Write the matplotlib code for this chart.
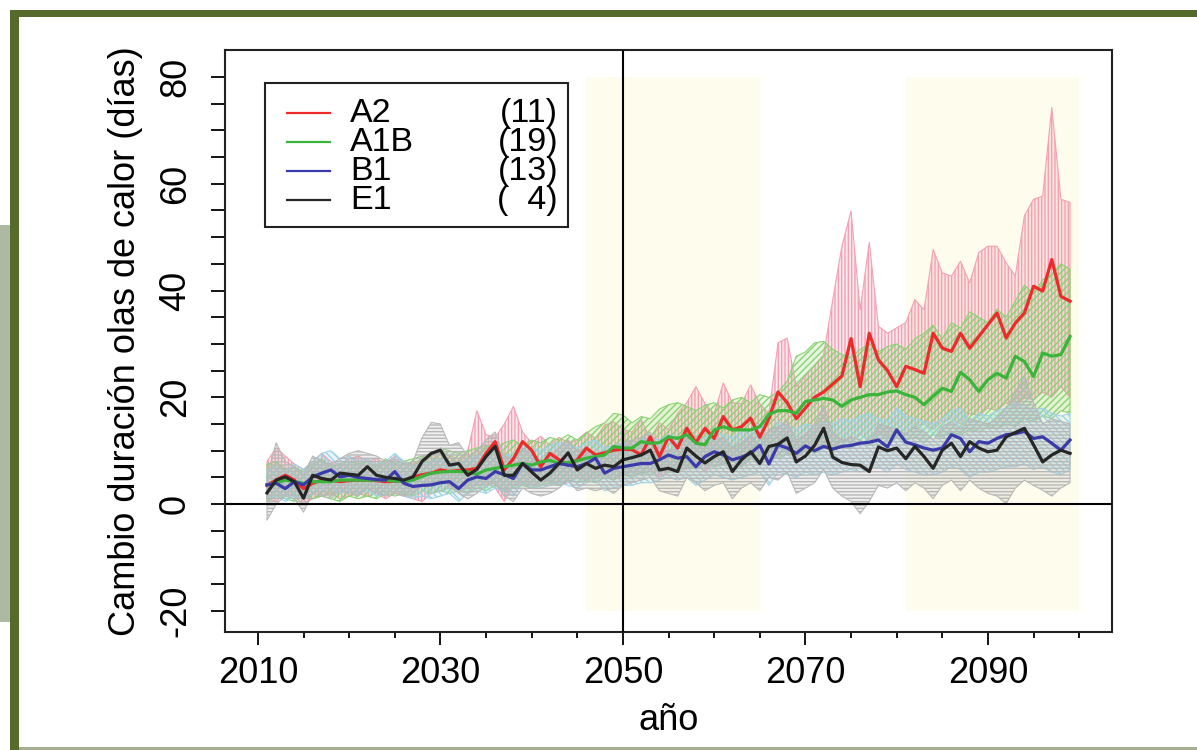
import numpy as np
import matplotlib.pyplot as plt
from matplotlib.patches import Rectangle
from matplotlib.colors import to_rgba

plt.rcParams['font.family'] = ['Liberation Sans', 'DejaVu Sans']
plt.rcParams['hatch.linewidth'] = 1.0
plt.rcParams['axes.unicode_minus'] = False

# years of the projection
years = np.arange(2011, 2100)

# multi-model mean change (days) per scenario
a2_mean = [3.5, 4.5, 5.4, 4.5, 2.9, 3.9, 4.5, 4.5, 4.2, 4.4,
           4.5, 4.5, 4.4, 4.2, 4.3, 4.2, 5.1, 5.5, 5.8, 6.4,
           6.1, 6.3, 6.4, 6.7, 9.5, 11.7, 6.4, 8.5, 11.7, 10.1,
           7.0, 9.5, 8.3, 7.3, 8.3, 10.5, 9.2, 9.6, 10.1, 10.3,
           10.2, 9.2, 12.6, 8.9, 12.6, 10.5, 14.2, 11.5, 14.2, 12.3,
           16.4, 13.9, 14.5, 16.1, 12.5, 16.0, 21.0, 19.0, 16.0, 18.0,
           20.0, 21.0, 22.5, 24.0, 31.0, 22.0, 32.0, 27.0, 25.0, 22.0,
           25.8, 25.2, 24.5, 32.0, 29.2, 28.6, 32.0, 29.2, 31.4, 33.6,
           35.8, 31.1, 33.9, 35.8, 40.8, 39.9, 45.8, 38.9, 38.0]
a1b_mean = [3.6, 3.9, 4.5, 4.2, 3.9, 4.2, 4.2, 4.2, 4.5, 4.5,
            4.5, 4.5, 4.5, 4.5, 4.3, 4.2, 4.5, 5.2, 5.8, 6.0,
            6.1, 6.1, 6.0, 5.6, 6.4, 6.7, 7.0, 7.3, 7.6, 7.3,
            7.9, 8.2, 7.6, 7.8, 8.1, 8.6, 8.9, 9.2, 10.8, 10.5,
            10.5, 11.7, 11.4, 11.5, 12.6, 12.3, 13.0, 11.4, 11.1, 13.9,
            14.5, 13.9, 13.9, 13.9, 14.5, 16.8, 17.5, 17.5, 17.0, 19.2,
            19.5, 19.8, 19.5, 18.3, 19.5, 20.0, 20.5, 20.5, 21.0, 21.2,
            20.5, 20.0, 18.6, 20.2, 21.7, 21.1, 24.7, 23.3, 21.1, 23.3,
            24.5, 23.6, 27.7, 26.7, 23.9, 28.3, 27.7, 28.0, 31.4]
b1_mean = [3.6, 3.9, 2.9, 4.2, 3.6, 5.1, 5.8, 6.4, 5.1, 5.4,
           5.0, 4.8, 4.6, 4.5, 6.1, 3.9, 3.3, 3.5, 3.6, 4.0,
           4.2, 2.9, 4.5, 5.1, 4.8, 6.1, 5.5, 4.8, 7.6, 6.4,
           6.4, 7.0, 7.6, 7.3, 7.0, 7.6, 8.6, 5.8, 6.7, 7.0,
           7.3, 7.6, 7.6, 8.3, 9.2, 8.6, 8.9, 7.0, 8.9, 9.8,
           9.2, 8.3, 8.8, 9.5, 11.0, 7.5, 11.1, 10.5, 9.5, 10.9,
           10.0, 10.8, 10.3, 10.8, 11.0, 11.4, 11.6, 12.0, 10.7, 13.9,
           11.6, 11.1, 10.5, 10.1, 10.5, 13.0, 12.3, 9.8, 11.7, 11.4,
           12.3, 13.0, 13.2, 13.6, 12.3, 12.6, 11.4, 10.1, 12.0]
e1_mean = [2.1, 4.5, 5.1, 4.2, 1.1, 5.4, 4.8, 4.5, 5.8, 5.6,
           5.4, 7.0, 5.4, 5.0, 4.8, 4.5, 5.1, 8.0, 9.5, 10.1,
           7.3, 7.6, 5.4, 6.5, 8.9, 10.8, 5.4, 5.4, 7.6, 6.0,
           4.5, 5.8, 7.6, 9.6, 6.4, 7.6, 6.7, 7.3, 7.0, 8.3,
           8.7, 9.2, 10.1, 6.4, 6.7, 6.1, 10.5, 9.0, 7.7, 8.9,
           9.8, 6.1, 8.3, 9.8, 7.6, 10.8, 11.2, 12.4, 7.9, 9.0,
           11.0, 14.2, 8.8, 7.8, 7.4, 7.3, 6.1, 10.7, 10.0, 10.5,
           8.5, 10.8, 8.9, 6.7, 10.1, 11.4, 8.9, 11.7, 10.5, 9.8,
           10.1, 12.6, 13.4, 14.2, 11.1, 7.9, 9.2, 10.1, 9.5]

# model spread (max / min) per scenario
a2_hi = [8.0, 10.5, 9.0, 7.5, 6.5, 8.0, 9.5, 8.0, 7.5, 8.5,
         9.0, 8.0, 8.5, 7.5, 9.0, 8.0, 7.5, 8.5, 9.0, 10.0,
         9.0, 8.5, 10.0, 17.5, 13.0, 12.5, 15.0, 18.3, 13.5, 11.5,
         12.7, 11.0, 12.5, 11.5, 12.0, 13.5, 12.3, 14.8, 15.4, 14.0,
         13.5, 15.8, 12.3, 15.2, 14.0, 17.0, 19.0, 22.0, 18.8, 16.9,
         22.7, 19.0, 18.8, 22.3, 18.8, 17.0, 30.2, 31.1, 22.0, 24.0,
         26.0, 28.0, 38.3, 48.3, 54.9, 36.4, 49.0, 33.3, 32.0, 33.0,
         34.0, 38.3, 36.4, 47.7, 43.3, 42.7, 45.5, 41.4, 47.1, 48.3,
         48.3, 45.2, 42.7, 54.0, 57.1, 57.7, 74.3, 57.1, 56.5]
a2_lo = [1.0, 0.5, 2.0, 1.5, 0.0, 1.0, 1.5, 2.0, 1.0, 1.5,
         2.0, 1.5, 2.0, 1.0, 2.0, 1.5, 1.0, 0.5, 2.0, 2.5,
         3.0, 2.5, 3.0, 3.5, 4.0, 3.0, 0.5, 3.5, 4.0, 3.5,
         4.0, 4.5, 3.5, 4.0, 5.0, 4.5, 5.0, 5.5, 4.5, 5.5,
         6.0, 5.5, 6.5, 5.0, 6.0, 7.0, 6.5, 7.5, 6.0, 8.0,
         7.5, 8.0, 7.0, 8.5, 9.0, 8.0, 9.5, 10.0, 8.5, 10.0,
         10.5, 11.0, 10.0, 12.0, 11.5, 13.0, 12.0, 13.5, 12.5, 14.0,
         13.0, 14.5, 15.0, 14.0, 15.5, 16.0, 15.0, 17.0, 16.5, 18.0,
         17.5, 19.0, 18.0, 20.0, 19.5, 21.0, 20.0, 22.0, 20.0]
a1b_hi = [7.5, 8.0, 6.5, 7.0, 6.0, 7.5, 8.5, 7.0, 7.5, 8.0,
          7.5, 8.0, 7.0, 8.5, 7.5, 8.0, 8.5, 9.0, 9.5, 10.5,
          10.0, 9.5, 10.0, 10.5, 11.0, 10.0, 11.5, 12.0, 11.0, 12.0,
          11.5, 12.5, 12.0, 13.0, 12.0, 13.3, 14.5, 15.2, 17.0, 16.7,
          15.2, 16.4, 16.0, 17.8, 18.6, 19.0, 18.3, 17.5, 18.5, 19.0,
          18.0, 19.5, 20.0, 19.0, 20.5, 20.0, 21.0, 23.0, 27.7, 28.5,
          30.2, 30.5, 29.0, 28.0, 27.5, 29.0, 30.0, 28.5, 29.5, 30.0,
          29.0, 31.0, 32.0, 33.5, 31.0, 34.0, 33.0, 36.0, 35.0, 34.0,
          36.5, 35.0, 38.0, 41.0, 39.5, 42.0, 43.0, 45.0, 44.0]
a1b_lo = [0.5, 1.5, 1.0, 0.5, 1.5, 1.0, 1.5, 1.0, 0.5, 1.5,
          1.0, 1.5, 1.0, 2.0, 1.5, 2.0, 1.5, 2.5, 2.0, 2.5,
          2.0, 2.5, 2.0, 3.0, 2.5, 3.5, 2.5, 3.0, 3.5, 3.0,
          3.5, 4.0, 3.5, 4.5, 4.0, 4.5, 4.0, 5.0, 4.5, 5.5,
          5.0, 6.0, 5.5, 6.5, 6.0, 6.0, 7.0, 6.5, 7.5, 7.0,
          7.5, 8.0, 7.0, 8.5, 8.0, 9.0, 8.5, 9.5, 9.0, 10.0,
          9.5, 10.5, 10.0, 11.0, 10.5, 11.5, 11.0, 12.0, 11.0, 12.5,
          12.0, 12.5, 11.5, 13.0, 12.5, 13.5, 13.0, 14.0, 13.5, 14.5,
          14.0, 15.0, 14.5, 16.0, 15.5, 16.5, 16.0, 17.5, 17.0]
b1_hi = [6.5, 7.0, 6.0, 7.5, 6.5, 8.0, 9.5, 10.0, 8.5, 9.0,
         8.0, 8.5, 7.5, 8.0, 9.5, 8.0, 7.0, 7.5, 8.0, 8.5,
         8.0, 7.5, 8.5, 9.0, 9.5, 10.0, 9.0, 9.5, 11.0, 10.5,
         10.0, 11.0, 11.5, 11.0, 10.5, 11.5, 12.0, 10.5, 11.0, 11.5,
         11.0, 12.0, 12.5, 12.0, 13.0, 12.5, 13.0, 11.5, 12.5, 13.5,
         13.0, 12.5, 13.5, 14.0, 15.0, 12.5, 15.5, 14.5, 14.0, 15.0,
         14.5, 15.5, 15.0, 16.0, 15.5, 16.5, 17.0, 16.0, 15.5, 18.0,
         16.5, 16.0, 15.5, 15.0, 16.0, 17.5, 18.0, 15.5, 17.0, 16.5,
         17.5, 18.0, 19.0, 18.5, 17.5, 18.0, 17.0, 16.5, 17.0]
b1_lo = [1.0, 1.5, 0.5, 1.5, 1.0, 2.0, 2.5, 3.0, 2.0, 2.5,
         2.0, 2.5, 1.5, 2.0, 3.0, 1.5, 1.0, 1.5, 1.0, 1.5,
         2.0, 0.5, 2.0, 2.5, 2.0, 3.0, 2.5, 1.5, 4.0, 3.0,
         3.0, 3.5, 4.0, 3.5, 3.0, 4.0, 4.5, 2.5, 3.0, 3.5,
         3.5, 4.0, 4.0, 4.5, 5.0, 4.5, 5.0, 3.5, 4.5, 5.5,
         5.0, 4.5, 5.0, 5.5, 6.0, 3.5, 6.0, 5.5, 5.0, 6.0,
         5.5, 6.0, 5.5, 6.0, 6.5, 6.0, 6.5, 7.0, 6.0, 7.5,
         6.5, 6.0, 5.5, 5.5, 6.0, 7.0, 6.5, 5.0, 6.0, 6.0,
         6.5, 7.0, 7.0, 7.5, 6.5, 7.0, 6.0, 5.5, 6.5]
e1_hi = [5.0, 11.5, 8.0, 7.0, 5.5, 9.0, 8.0, 7.5, 8.5, 9.5,
         10.0, 9.5, 9.0, 8.0, 8.5, 7.5, 8.0, 12.5, 15.3, 15.0,
         11.0, 11.5, 9.0, 10.0, 12.0, 13.5, 9.0, 8.5, 10.5, 9.5,
         8.0, 9.0, 10.5, 12.0, 10.0, 10.5, 9.5, 10.0, 10.5, 11.5,
         12.0, 12.5, 13.5, 10.5, 10.0, 10.5, 13.5, 12.5, 11.0, 12.0,
         12.5, 10.5, 11.5, 13.0, 11.0, 14.0, 14.5, 15.5, 12.0, 13.0,
         15.0, 18.5, 13.5, 12.0, 12.5, 12.0, 11.0, 15.0, 14.5, 14.0,
         13.0, 14.5, 13.5, 12.0, 14.5, 15.5, 14.0, 16.0, 15.5, 15.0,
         16.0, 18.0, 21.0, 24.0, 19.0, 15.0, 16.0, 15.5, 15.0]
e1_lo = [-3.0, 0.0, 1.5, 1.0, -1.5, 2.0, 1.5, 1.0, 2.5, 2.0,
         1.5, 3.0, 2.0, 1.5, 2.0, 1.5, 2.0, 3.5, 4.0, 4.5,
         3.5, 2.0, 1.0, 2.0, 3.5, 4.0, 1.5, 0.5, 3.0, 2.0,
         1.5, 2.0, 3.0, 4.5, 2.5, 3.0, 2.5, 3.0, 2.0, 3.5,
         4.0, 4.5, 5.0, 2.5, 2.0, 1.5, 5.0, 4.0, 2.5, 3.5,
         4.0, 1.0, 3.0, 4.0, 2.5, 5.0, 4.5, 6.0, 2.0, 3.0,
         4.0, 6.5, 3.0, 1.5, 0.5, -1.8, 0.5, 3.5, 3.0, 4.0,
         2.5, 4.0, 3.0, 1.0, 3.5, 4.5, 2.5, 4.5, 3.0, 2.0,
         1.5, 0.1, 3.0, 4.5, 3.5, 2.6, 1.5, 3.0, 4.0]

scenarios = ['A2', 'A1B', 'B1', 'E1']
n_models = ['(11)', '(19)', '(13)', '(  4)']
means = [a2_mean, a1b_mean, b1_mean, e1_mean]
his = [a2_hi, a1b_hi, b1_hi, e1_hi]
los = [a2_lo, a1b_lo, b1_lo, e1_lo]
line_colors = ['#ee2a2a', '#3bb43b', '#3a3aaa', '#262626']
band_colors = ['#f4a0b4', '#8ad275', '#9ed3e6', '#b8b8b8']
hatches = ['|||||', '/////', '\\\\\\\\\\', '-----']

# highlighted periods
periods = [(2046, 2065), (2081, 2100)]

fig = plt.figure(figsize=(11.97, 7.5), dpi=100)
ax = fig.add_axes([0.188, 0.157, 0.741, 0.776])

for p0, p1 in periods:
    ax.fill_between([p0, p1], -20, 80, color='#fefcec', lw=0, zorder=0)

for hi, lo, bc, h in zip(his, los, band_colors, hatches):
    ax.fill_between(years, lo, hi, facecolor=to_rgba(bc, 0.22), edgecolor=bc,
                    hatch=h, lw=0.8, zorder=1)

for m, c in zip(means, line_colors):
    ax.plot(years, m, color=c, lw=2.3, zorder=3)

ax.axhline(0, color='black', lw=1.5, zorder=4)
ax.axvline(2050, color='black', lw=1.5, zorder=4)

ax.set_xlim(2006.4, 2103.6)
ax.set_ylim(-24, 85)
ax.set_xticks([2010, 2030, 2050, 2070, 2090])
ax.set_xticks(np.arange(2010, 2101, 5), minor=True)
ax.set_yticks([-20, 0, 20, 40, 60, 80])
ax.set_yticks(np.arange(-20, 81, 5), minor=True)
ax.tick_params(axis='x', which='major', length=9, width=1.3, pad=8, labelsize=26)
ax.tick_params(axis='x', which='minor', length=4, width=1.3)
ax.tick_params(axis='y', which='both', length=10, width=1.3)
ax.tick_params(axis='y', which='major', pad=13, labelsize=26, labelrotation=90)
for lab in ax.get_yticklabels():
    lab.set_va('center')
for s in ax.spines.values():
    s.set_linewidth(1.5)
    s.set_color('#222222')

ax.set_xlabel('año', fontsize=26, labelpad=9)
ax.set_ylabel('Cambio duración olas de calor (días)', fontsize=26, labelpad=11)

# legend box
ax.add_patch(Rectangle((0.0451, 0.6959), 0.3416, 0.2474, transform=ax.transAxes,
                       facecolor='white', edgecolor='#222222', lw=1.5, zorder=5))
rows = [0.8918, 0.8419, 0.7921, 0.7423]
for yy, name, cnt, c in zip(rows, scenarios, n_models, line_colors):
    ax.plot([0.0699, 0.1184], [yy, yy], transform=ax.transAxes, color=c, lw=1.6, zorder=6)
    ax.text(0.1409, yy, name, transform=ax.transAxes, fontsize=24.5, va='center', zorder=6)
    ax.text(0.3754, yy, cnt, transform=ax.transAxes, fontsize=24.5, va='center',
            ha='right', zorder=6)

# page frame decoration
olive = '#566b2b'
fig.add_artist(Rectangle((10 / 1197, 1 - 17 / 750), 1, 7 / 750, transform=fig.transFigure,
                         color=olive, lw=0))
fig.add_artist(Rectangle((10 / 1197, 0), 9 / 1197, 1 - 10 / 750, transform=fig.transFigure,
                         color=olive, lw=0))
fig.add_artist(Rectangle((0, 1 - 622 / 750), 10 / 1197, 397 / 750, transform=fig.transFigure,
                         color='#adb9a0', lw=0))
fig.add_artist(Rectangle((19 / 1197, 0), 1, 3 / 750, transform=fig.transFigure,
                         color='#a4ae90', lw=0))

fig.savefig('out.png', dpi=100)
